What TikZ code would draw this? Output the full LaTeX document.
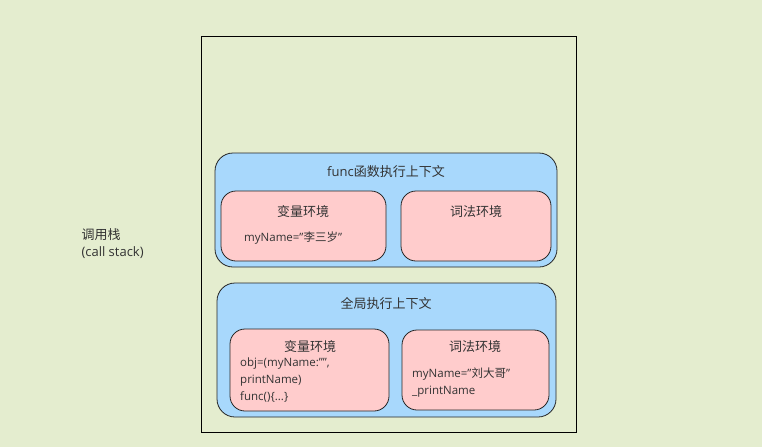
\documentclass[tikz,border=0pt]{standalone}
\usepackage{fontspec}
\setmainfont{Open Sans}
\newfontfamily\cjk{Noto Sans CJK SC}
\definecolor{bg}{HTML}{E4EDCF}
\definecolor{bl}{HTML}{A8D8FC}
\definecolor{pk}{HTML}{FFCCCC}
\definecolor{tx}{HTML}{333333}
\begin{document}
\begin{tikzpicture}[x=1pt,y=-1pt,font=\fontsize{13}{17}\selectfont,text=tx,
  ctx/.style={draw=black!85,fill=bl,rounded corners=18pt,line width=0.8pt},
  env/.style={draw=black!85,fill=pk,rounded corners=15pt,line width=0.8pt},
  code/.style={anchor=north west,align=left,inner sep=0pt,font=\fontsize{11.5}{17}\selectfont}]
\fill[bg] (0,0) rectangle (762,447);
\useasboundingbox (0,0) rectangle (762,447);
\draw[line width=0.6pt] (201,36) rectangle (576,432);
\node[align=left,anchor=west] (stk) at (78,244) {{\cjk 调用栈}\\(call stack)};
\draw[ctx] (215,153) rectangle (557,267);
\node (t1) at (386,172) {func{\cjk 函数执行上下文}};
\draw[env] (221,191) rectangle (386,261);
\node (v1) at (303,212) {\cjk 变量环境};
\node[code,anchor=west] (v1a) at (244,238) {myName="{\cjk 李三岁}"};
\draw[env] (401,191) rectangle (551,261);
\node (l1) at (476,212) {\cjk 词法环境};
\draw[ctx] (217,283) rectangle (556,417);
\node (t2) at (386,304) {\cjk 全局执行上下文};
\draw[env] (230,329) rectangle (389,411);
\node (v2) at (310,347) {\cjk 变量环境};
\node[code] (v2a) at (240,358) {obj=(myName:"",\\printName)\\func()\{...\}};
\draw[env] (402,330) rectangle (549,410);
\node (l2) at (475,347) {\cjk 词法环境};
\node[code] (l2a) at (412,368) {myName="{\cjk 刘大哥}"\\\_printName};
\end{tikzpicture}
\end{document}
